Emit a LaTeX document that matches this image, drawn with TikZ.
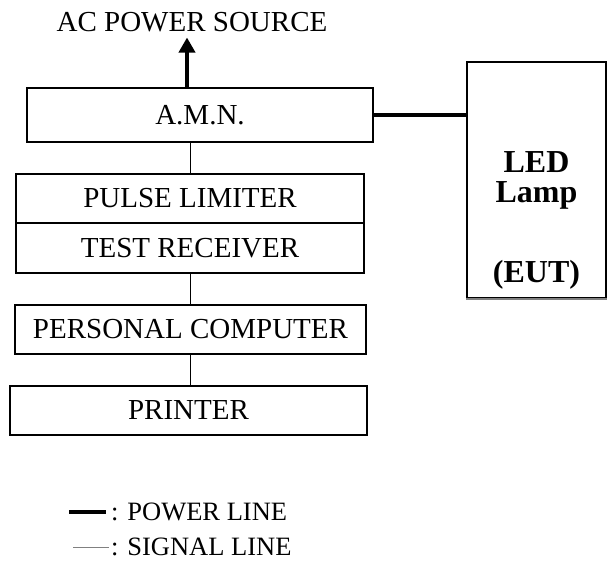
\documentclass[tikz,border=0pt]{standalone}
\usepackage{fontspec}
\setmainfont{Liberation Serif}
\usetikzlibrary{arrows.meta,calc}
\begin{document}
\begin{tikzpicture}[x=1pt, y=-1pt, >={Triangle[width=16pt,length=15pt]},
		box/.style={draw, line width=1.2pt, inner sep=0pt, font=\fontsize{29}{28}\selectfont},
		power/.style={line width=3.6pt},
		signal/.style={line width=1pt},
		lbl/.style={inner sep=0pt, font=\fontsize{29}{28}\selectfont},
		keylbl/.style={inner sep=0pt, anchor=west, font=\fontsize{26.5}{28}\selectfont}]
	\useasboundingbox (0,0) rectangle (607,564);
	\node[lbl] (ac) at (192,22.5) {AC POWER SOURCE};
	\node[box, minimum width=346pt, minimum height=54pt] (amn) at (200,115) {A.M.N.};
	\node[box, minimum width=348pt, minimum height=49pt] (pl) at (190,198.5) {PULSE LIMITER};
	\node[box, minimum width=348pt, minimum height=50pt] (tr) at (190,248) {TEST RECEIVER};
	\node[box, minimum width=351pt, minimum height=49pt] (pc) at (190.5,329.5) {PERSONAL COMPUTER};
	\node[box, minimum width=357pt, minimum height=49pt] (pr) at (188.5,410.5) {PRINTER};
	\node[box, minimum width=139pt, minimum height=236pt] (eut) at (536.5,180) {};
	\draw[line width=2.2pt, gray] (eut.south west) -- (eut.south east);
	\node[lbl, font=\fontsize{32}{30}\selectfont\bfseries, align=center, anchor=north] (eutlbl) at ($(eut.north)+(0,90)$) {LED\\Lamp\\[50pt](EUT)};
	\draw[power,->] ($(amn.north)+(-13,0)$) -- ($(ac.south)+(-5,5)$);
	\draw[power] (amn.east) -- (amn.east -| eut.west);
	\draw[signal] (amn.south -| pl.north) -- (pl.north);
	\draw[signal] (tr.south) -- (tr.south |- pc.north);
	\draw[signal] (pc.south) -- (pc.south |- pr.north);
	\node[keylbl] (pwrkey) at (111,512) {: POWER LINE};
	\node[keylbl] (sigkey) at (111,547) {: SIGNAL LINE};
	\coordinate (pwrend) at (69,512);
	\coordinate (sigend) at (73,547);
	\draw[power] (pwrend) -- ($(pwrkey.west)+(-5,0)$);
	\draw[signal, gray] (sigend) -- ($(sigkey.west)+(-2,0)$);
\end{tikzpicture}
\end{document}
